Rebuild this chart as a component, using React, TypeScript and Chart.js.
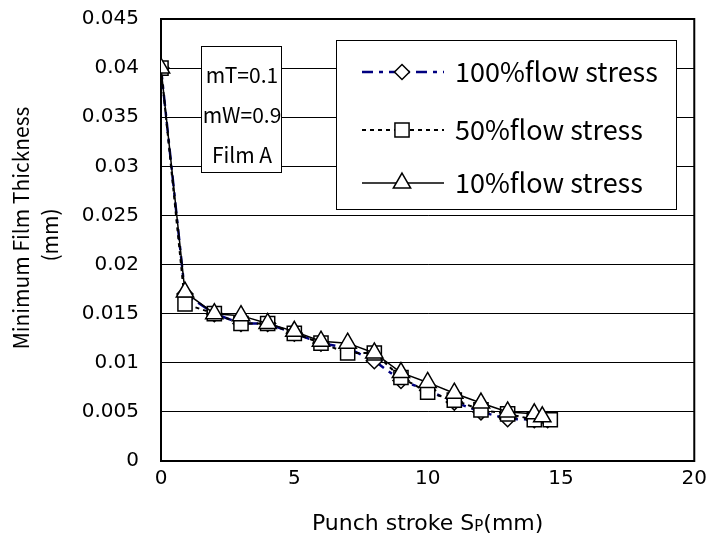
import React, { useEffect, useRef } from "react";
import { Chart, registerables } from "chart.js";
Chart.register(...registerables);

const FONT = "'Noto Sans CJK JP', 'Noto Sans', sans-serif";
const TICK_FONT = "'DejaVu Sans', sans-serif";

const seriesNames = ["100%flow stress", "50%flow stress", "10%flow stress"];

const stroke100 = [0, 0.9, 2, 3, 4, 5, 6, 7, 8, 9, 10, 11, 12, 13, 14, 14.5];
const thick100 = [0.04, 0.017, 0.015, 0.014, 0.014, 0.013, 0.012, 0.0115, 0.0102, 0.0082, 0.0072, 0.006, 0.005, 0.0043, 0.0042, 0.0042];

const stroke50 = [0, 0.9, 2, 3, 4, 5, 6, 7, 8, 9, 10, 11, 12, 13, 14, 14.6];
const thick50 = [0.04, 0.016, 0.015, 0.014, 0.014, 0.013, 0.012, 0.011, 0.011, 0.0085, 0.007, 0.0062, 0.0052, 0.0048, 0.0042, 0.0042];

const stroke10 = [0, 0.9, 2, 3, 4, 5, 6, 7, 8, 9, 10, 11, 12, 13, 14, 14.3];
const thick10 = [0.04, 0.0172, 0.015, 0.0148, 0.014, 0.0132, 0.0122, 0.012, 0.011, 0.009, 0.008, 0.0069, 0.0059, 0.005, 0.0048, 0.0045];

const xTicks = [0, 5, 10, 15, 20];
const yTicks = [0, 0.005, 0.01, 0.015, 0.02, 0.025, 0.03, 0.035, 0.04, 0.045];

const conditionLines = ["mT=0.1", "mW=0.9", "Film A"];

const yTitle = ["Minimum Film Thickness", "(mm)"];
const xTitleMain = "Punch stroke S";
const xTitleSub = "P";
const xTitleTail = "(mm)";

const toPoints = (xs: number[], ys: number[]) => xs.map((x, i) => ({ x, y: ys[i] }));

const styles = [
  { color: "#000080", dash: [11, 6, 4, 6], width: 2.5, point: "rectRot", radius: 8 },
  { color: "#000000", dash: [4, 4], width: 2, point: "rect", radius: 10 },
  { color: "#000000", dash: [] as number[], width: 1.5, point: "triangle", radius: 10 },
];

function marker(ctx: CanvasRenderingContext2D, kind: string, x: number, y: number, r: number) {
  ctx.beginPath();
  if (kind === "rectRot") {
    ctx.moveTo(x, y - r);
    ctx.lineTo(x + r, y);
    ctx.lineTo(x, y + r);
    ctx.lineTo(x - r, y);
  } else if (kind === "rect") {
    const s = r * Math.SQRT1_2;
    ctx.rect(x - s, y - s, 2 * s, 2 * s);
  } else {
    const h = (r * Math.sqrt(3)) / 2;
    ctx.moveTo(x, y - r);
    ctx.lineTo(x + h, y + r / 2);
    ctx.lineTo(x - h, y + r / 2);
  }
  ctx.closePath();
  ctx.fill();
  ctx.stroke();
}

const overlayPlugin = {
  id: "overlay",
  beforeDatasetsDraw(chart: any) {
    const { ctx, chartArea } = chart;
    ctx.save();
    ctx.strokeStyle = "#000";
    ctx.lineWidth = 2;
    ctx.strokeRect(chartArea.left, chartArea.top, chartArea.right - chartArea.left, chartArea.bottom - chartArea.top);
    ctx.restore();
  },
  afterDraw(chart: any) {
    const { ctx, chartArea } = chart;
    const L = chartArea.left;
    const T = chartArea.top;
    ctx.save();
    // condition box
    const bx = L + 40, by = T + 27, bw = 80, bh = 126;
    ctx.fillStyle = "#fff";
    ctx.fillRect(bx, by, bw, bh);
    ctx.strokeStyle = "#000";
    ctx.lineWidth = 1;
    ctx.strokeRect(bx + 0.5, by + 0.5, bw, bh);
    ctx.fillStyle = "#000";
    ctx.font = `21px ${FONT}`;
    ctx.textAlign = "center";
    ctx.textBaseline = "middle";
    conditionLines.forEach((t, i) => ctx.fillText(t, bx + bw / 2 + 1, by + 29 + i * 40));

    // legend box
    const lx = L + 175, ly = T + 21, lw = 340, lh = 169;
    ctx.fillStyle = "#fff";
    ctx.fillRect(lx, ly, lw, lh);
    ctx.strokeRect(lx + 0.5, ly + 0.5, lw, lh);
    const rows = [ly + 32, ly + 90, ly + 143];
    chart.data.datasets.forEach((ds: any, i: number) => {
      const s = styles[i];
      const y = rows[i];
      ctx.save();
      ctx.strokeStyle = s.color;
      ctx.lineWidth = s.width;
      ctx.setLineDash(s.dash);
      ctx.beginPath();
      ctx.moveTo(lx + 26, y);
      ctx.lineTo(lx + 108, y);
      ctx.stroke();
      ctx.restore();
      ctx.save();
      ctx.fillStyle = "#fff";
      ctx.strokeStyle = "#000";
      ctx.lineWidth = 1.5;
      marker(ctx, s.point, lx + 66, y, s.point === "rectRot" ? 7.5 : 10);
      ctx.restore();
      ctx.fillStyle = "#000";
      ctx.font = `27px ${FONT}`;
      ctx.textAlign = "left";
      ctx.textBaseline = "middle";
      ctx.fillText(ds.label, lx + 119, y);
    });

    // y title (two rotated lines)
    ctx.save();
    ctx.fillStyle = "#000";
    ctx.font = `21px ${FONT}`;
    ctx.textAlign = "center";
    ctx.textBaseline = "middle";
    ctx.translate(21, 228);
    ctx.rotate(-Math.PI / 2);
    ctx.fillText(yTitle[0], 0, 0);
    ctx.fillText(yTitle[1], -7, 29);
    ctx.restore();

    // x title with subscript
    ctx.fillStyle = "#000";
    ctx.textBaseline = "alphabetic";
    ctx.textAlign = "left";
    const big = `22px ${TICK_FONT}`;
    const small = `15px ${TICK_FONT}`;
    ctx.font = big;
    const w1 = ctx.measureText(xTitleMain).width;
    const w3 = ctx.measureText(xTitleTail).width;
    ctx.font = small;
    const w2 = ctx.measureText(xTitleSub).width;
    const cx = (chartArea.left + chartArea.right) / 2;
    let x = cx - (w1 + w2 + w3) / 2;
    const base = 530;
    ctx.font = big;
    ctx.fillText(xTitleMain, x, base);
    x += w1;
    ctx.font = small;
    ctx.fillText(xTitleSub, x, base + 1);
    x += w2;
    ctx.font = big;
    ctx.fillText(xTitleTail, x, base);
    ctx.restore();
  },
};

export default function App() {
  const ref = useRef<HTMLCanvasElement>(null);
  useEffect(() => {
    document.body.style.margin = "0";
    const datasets = [
      { label: seriesNames[0], data: toPoints(stroke100, thick100), order: 2 },
      { label: seriesNames[1], data: toPoints(stroke50, thick50), order: 1 },
      { label: seriesNames[2], data: toPoints(stroke10, thick10), order: 0 },
    ].map((d, i) => ({
      ...d,
      borderColor: styles[i].color,
      borderDash: styles[i].dash,
      borderWidth: styles[i].width,
      pointStyle: styles[i].point,
      pointRadius: styles[i].radius,
      pointBorderColor: "#000",
      pointBackgroundColor: "#fff",
      pointBorderWidth: 1.5,
      backgroundColor: "#fff",
      fill: false,
      tension: 0,
    }));
    const chart = new Chart(ref.current!, {
      type: "line",
      data: { datasets },
      options: {
        animation: false,
        responsive: true,
        maintainAspectRatio: false,
        layout: { padding: { top: 19, right: 17, left: 0, bottom: 0 } },
        plugins: { legend: { display: false }, tooltip: { enabled: false } },
        scales: {
          x: {
            type: "linear",
            min: 0,
            max: 20,
            afterBuildTicks: (s: any) => { s.ticks = xTicks.map((v) => ({ value: v })); },
            afterFit: (s: any) => { s.height = 76; },
            ticks: { color: "#000", font: { family: TICK_FONT, size: 20 }, padding: 6, maxRotation: 0, autoSkip: false },
            grid: { display: false, drawTicks: false },
            border: { display: true, color: "#000", width: 2 },
          },
          y: {
            type: "linear",
            min: 0,
            max: 0.045,
            afterBuildTicks: (s: any) => { s.ticks = yTicks.map((v) => ({ value: v })); },
            afterFit: (s: any) => { s.width = 161; s.paddingTop = 0; s.paddingBottom = 0; },
            ticks: {
              color: "#000",
              font: { family: TICK_FONT, size: 20 },
              padding: 22,
              autoSkip: false,
              callback: (v: any) => String(+Number(v).toFixed(3)),
            },
            grid: { display: true, color: "#000", lineWidth: 1, drawTicks: false },
            border: { display: true, color: "#000", width: 2 },
          },
        },
      },
      plugins: [overlayPlugin],
    } as any);
    return () => chart.destroy();
  }, []);
  return (
    <div style={{ position: "relative", width: 713, height: 537 }}>
      <canvas ref={ref} />
    </div>
  );
}
